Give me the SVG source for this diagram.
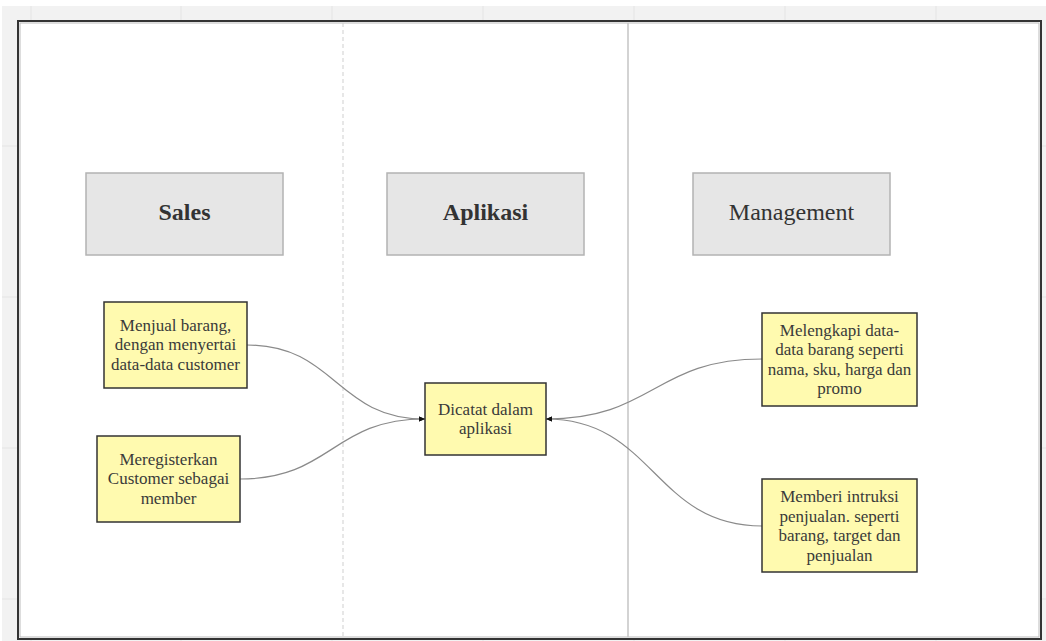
<svg xmlns="http://www.w3.org/2000/svg" width="1046" height="641" viewBox="0 0 1046 641">
  <defs>
    <style>
      .grid { stroke: #e4e4e4; stroke-width: 1; }
      .hdr rect { fill: #e6e6e6; stroke: #b3b3b3; stroke-width: 1.5; }
      .hdr text { font-family: "Liberation Serif", serif; font-size: 24px; fill: #333; text-anchor: middle; }
      .note rect { fill: #fffaaf; stroke: #333; stroke-width: 1.5; }
      .note text { font-family: "Liberation Serif", serif; font-size: 17px; fill: #3a3a3a; text-anchor: middle; }
      .edge { fill: none; stroke: #8a8a8a; stroke-width: 1.2; }
    </style>
    <marker id="arrow" viewBox="0 0 10 10" refX="10" refY="5" markerWidth="6" markerHeight="6" markerUnits="userSpaceOnUse" orient="auto">
      <path d="M0,1 L10,5 L0,9 Z" fill="#111"/>
    </marker>
  </defs>

  <!-- background canvas -->
  <rect x="0" y="0" width="1046" height="641" fill="#ffffff"/>
  <rect x="2" y="6" width="1044" height="635" fill="#f2f2f2"/>
  <g id="grid">
    <line class="grid" x1="31" y1="6" x2="31" y2="641"/>
    <line class="grid" x1="181" y1="6" x2="181" y2="641"/>
    <line class="grid" x1="332" y1="6" x2="332" y2="641"/>
    <line class="grid" x1="483" y1="6" x2="483" y2="641"/>
    <line class="grid" x1="634" y1="6" x2="634" y2="641"/>
    <line class="grid" x1="785" y1="6" x2="785" y2="641"/>
    <line class="grid" x1="936" y1="6" x2="936" y2="641"/>
    <line class="grid" x1="2" y1="146" x2="1046" y2="146"/>
    <line class="grid" x1="2" y1="297" x2="1046" y2="297"/>
    <line class="grid" x1="2" y1="448" x2="1046" y2="448"/>
    <line class="grid" x1="2" y1="599" x2="1046" y2="599"/>
  </g>

  <!-- frame -->
  <g id="frame">
    <rect x="18" y="21" width="1023" height="618" fill="#ffffff" stroke="#333" stroke-width="2"/>
    <rect x="20" y="23" width="1019" height="614" fill="none" stroke="#bbb" stroke-width="1"/>
    <line x1="343" y1="23" x2="343" y2="637" stroke="#cfcfcf" stroke-width="1" stroke-dasharray="4,3"/>
    <line x1="628" y1="23" x2="628" y2="637" stroke="#c4c4c4" stroke-width="1.5"/>
  </g>

  <!-- connectors -->
  <g id="connectors">
    <path class="edge" d="M247,345 C336,345 336,419 425,419" marker-end="url(#arrow)"/>
    <path class="edge" d="M240,479 C332,479 332,419 425,419" marker-end="url(#arrow)"/>
    <path class="edge" d="M762,359 C654,359 654,419 546,419" marker-end="url(#arrow)"/>
    <path class="edge" d="M762,526 C654,526 654,419 546,419" marker-end="url(#arrow)"/>
  </g>

  <!-- headers -->
  <g id="hdr-sales" class="hdr">
    <rect x="86" y="173" width="197" height="82"/>
    <text x="184.5" y="220" font-weight="bold">Sales</text>
  </g>
  <g id="hdr-aplikasi" class="hdr">
    <rect x="387" y="173" width="197" height="82"/>
    <text x="485.5" y="220" font-weight="bold">Aplikasi</text>
  </g>
  <g id="hdr-management" class="hdr">
    <rect x="693" y="173" width="197" height="82"/>
    <text x="791.5" y="220">Management</text>
  </g>

  <!-- notes -->
  <g id="note-menjual" class="note">
    <rect x="104" y="302" width="143" height="86"/>
    <text x="175.5" y="330.5">Menjual barang,</text>
    <text x="175.5" y="350">dengan menyertai</text>
    <text x="175.5" y="369.5">data-data customer</text>
  </g>
  <g id="note-registrasi" class="note">
    <rect x="97" y="436" width="143" height="86"/>
    <text x="168.5" y="464.5">Meregisterkan</text>
    <text x="168.5" y="484">Customer sebagai</text>
    <text x="168.5" y="503.5">member</text>
  </g>
  <g id="note-dicatat" class="note">
    <rect x="425" y="383" width="121" height="72"/>
    <text x="485.5" y="414.5">Dicatat dalam</text>
    <text x="485.5" y="434">aplikasi</text>
  </g>
  <g id="note-melengkapi" class="note">
    <rect x="762" y="313" width="155" height="93"/>
    <text x="839.5" y="335.5">Melengkapi data-</text>
    <text x="839.5" y="355">data barang seperti</text>
    <text x="839.5" y="374.5">nama, sku, harga dan</text>
    <text x="839.5" y="394">promo</text>
  </g>
  <g id="note-instruksi" class="note">
    <rect x="762" y="479" width="155" height="93"/>
    <text x="839.5" y="502">Memberi intruksi</text>
    <text x="839.5" y="521.5">penjualan. seperti</text>
    <text x="839.5" y="541">barang, target dan</text>
    <text x="839.5" y="560.5">penjualan</text>
  </g>
</svg>
